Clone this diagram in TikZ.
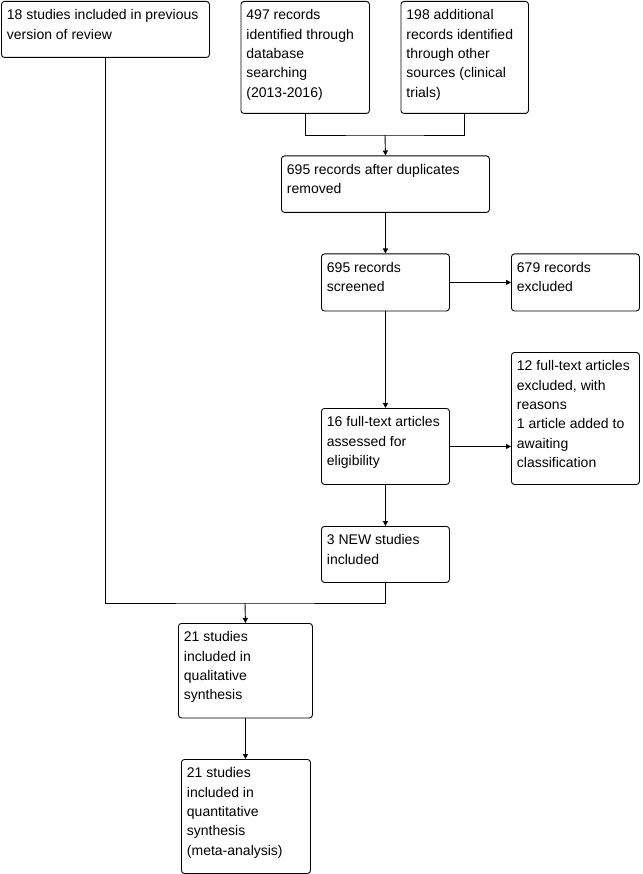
\documentclass[tikz,border=0pt]{standalone}
\usepackage{fontspec}
\setmainfont{Liberation Sans}
\usepackage{tikz}
\usetikzlibrary{arrows.meta,positioning,calc}
\newcommand{\boxfont}{\fontsize{14}{19.3}\selectfont}

\begin{document}
\begin{tikzpicture}[x=1pt, y=-1pt, line width=0.9pt,
    flowbox/.style 2 args={draw, rounded corners=3pt, anchor=north west,
        inner xsep=5.5pt, inner ysep=5pt,
        execute at begin node={\begin{minipage}[t][#2pt][t]{#1pt}\boxfont\raggedright\strut},
        execute at end node={\end{minipage}}},
    arr/.style={-{Triangle[length=5pt,width=5pt]}}]
    \useasboundingbox (0,0) rectangle (642,874);

    % Identification
    \node[flowbox={197}{46}] (prev) at (1,1) {18 studies included in previous\\version of review};
    \node[flowbox={117.5}{102}] (dbsearch) at (240.5,1) {497 records\\identified through\\database\\searching\\(2013-2016)};
    \node[flowbox={116.5}{102}] (other) at (400.5,1) {198 additional\\records identified\\through other\\sources (clinical\\trials)};

    % Screening
    \node[flowbox={197}{46.5}] (dedup) at (281,155.5) {695 records after duplicates\\removed};
    \node[flowbox={117}{47}] (screened) at (321,253.5) {695 records\\screened};
    \node[flowbox={117}{47}] (excl) at (511,253.5) {679 records\\excluded};

    % Eligibility
    \node[flowbox={117}{66}] (fulltext) at (321,408) {16 full-text articles\\assessed for\\eligibility};
    \node[flowbox={117}{122}] (ftexcl) at (511,352) {12 full-text articles\\excluded, with\\reasons\\1 article added to\\awaiting\\classification};
    \node[flowbox={117}{46}] (newstud) at (321,526) {3 NEW studies\\included};

    % Included
    \node[flowbox={123}{84.5}] (qual) at (178,623) {21 studies\\included in\\qualitative\\synthesis};
    \node[flowbox={118}{104}] (quant) at (181,759) {21 studies\\included in\\quantitative\\synthesis\\(meta-analysis)};

    % connectors
    \coordinate (jtop) at (385,135);
    \coordinate (jbot) at (245,603);
    \draw (dbsearch.south) |- (jtop) -| (other.south);
    \draw[arr] (jtop) -- (dedup.north);
    \draw[arr] (dedup.south) -- (screened.north);
    \draw[arr] (screened.east) -- (excl.west);
    \draw[arr] (screened.south) -- (fulltext.north);
    \draw[arr] (fulltext.east) -- (fulltext.east -| ftexcl.west);
    \draw[arr] (fulltext.south) -- (newstud.north);
    \draw (prev.south) |- (jbot) -| (newstud.south);
    \draw[arr] (jbot) -- (qual.north);
    \draw[arr] (qual.south) -- (qual.south |- quant.north);
\end{tikzpicture}
\end{document}
